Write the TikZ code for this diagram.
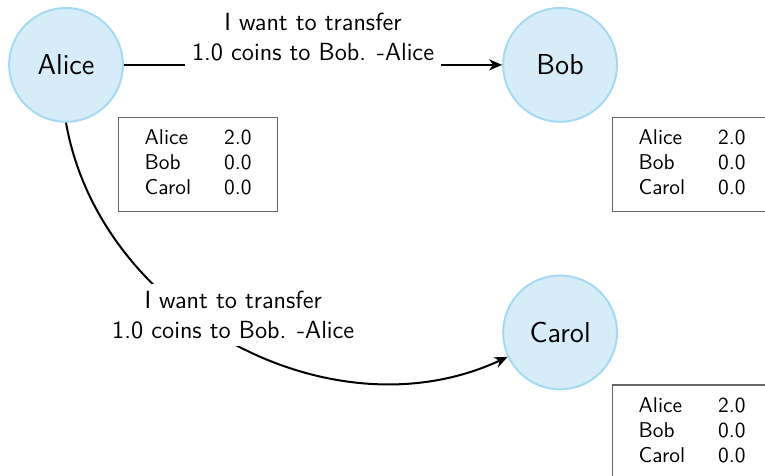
\documentclass[tikz,border=0pt]{standalone}
\usepackage{tikz}
\usetikzlibrary{positioning,arrows.meta}

\definecolor{partyfill}{RGB}{214,237,249}
\definecolor{partyline}{RGB}{166,218,243}

\tikzset{
    party/.style={circle, draw=partyline, fill=partyfill, line width=1pt,
        minimum size=2cm, inner sep=0pt, font=\sffamily\Large},
    ledger/.style={draw=black!60, thick, inner xsep=13pt, inner ysep=4.75pt,
        font=\sffamily\fontsize{10.7}{12.5}\selectfont},
    msg/.style={above, yshift=-2pt, fill=white, align=center,
        font=\sffamily\fontsize{12.4}{15}\selectfont},
    transfer/.style={-{Stealth[length=6.5pt, width=5.5pt, inset=2pt]}, line width=1pt}
}

\newcommand{\balances}{%
    \begin{tabular}{@{}l@{\hspace{16.5pt}}l@{}}
        Alice & 2.0\\
        Bob   & 0.0\\
        Carol & 0.0
    \end{tabular}}

\begin{document}
\begin{tikzpicture}
    % Rahmen (rechts und unten abgeschnitten)
    \useasboundingbox (-1.16,1.14) rectangle (12.28,-7.22);
    \clip (-1.16,1.14) rectangle (12.28,-7.22);
    % Teilnehmer:
    \node[party] (Alice) at (0,0) {Alice};
    \node[party] (Bob) at (8.68,0) {Bob};
    \node[party] (Carol) at (8.68,-4.70) {Carol};
    % Kontostaende:
    \node[ledger, below right=0.91cm and 0.91cm of Alice.center] (ledgerAlice) {\balances};
    \node[ledger, below right=0.91cm and 0.91cm of Bob.center] (ledgerBob) {\balances};
    \node[ledger, below right=0.91cm and 0.91cm of Carol.center] (ledgerCarol) {\balances};
    % Nachrichten:
    \draw[transfer] (Alice) -- node[msg] {I want to transfer\\1.0 coins to Bob. -Alice} (Bob);
    \draw[transfer] (Alice.south) to[out=-80, in=205]
        node[msg, midway] {I want to transfer\\1.0 coins to Bob. -Alice} (Carol);
\end{tikzpicture}
\end{document}
